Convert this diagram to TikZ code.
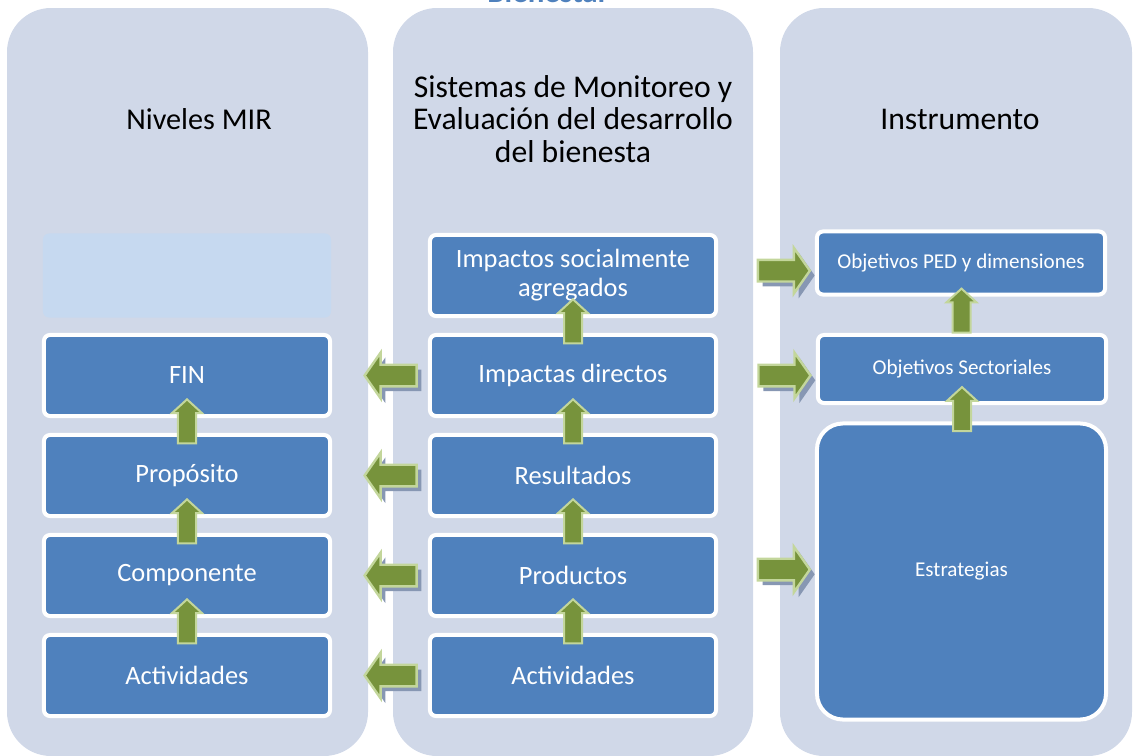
\documentclass[tikz,border=0pt]{standalone}
\usepackage{fontspec}
\setmainfont{Carlito}
\usetikzlibrary{shapes.arrows,shadows,positioning}
\definecolor{colbg}{HTML}{D0D8E8}
\definecolor{boxblue}{HTML}{4F81BD}
\definecolor{boxlight}{HTML}{C6D9F0}
\definecolor{arrgreen}{HTML}{77933C}
\definecolor{arredge}{HTML}{C3D69B}
\definecolor{arrshadow}{HTML}{8797B3}
\definecolor{titleblue}{HTML}{4F81BD}
\begin{document}
\begin{tikzpicture}[x=0.025cm, y=-0.025cm,
    title/.style     = {font=\fontsize{22.5}{23.3}\selectfont, align=center, text=black},
    level/.style     = {fill=boxblue, draw=white, line width=0.1cm, rounded corners=0.15cm,
                        minimum width=7.15cm, minimum height=2.025cm, text=white,
                        font=\fontsize{18.8}{20.6}\selectfont, align=center, inner sep=0},
    goal/.style      = {level, font=\fontsize{15}{18}\selectfont},
    uparrow/.style   = {single arrow, fill=arrgreen, draw=arredge, line width=0.05cm,
                        inner sep=0.2cm, single arrow head extend=0.15cm, single arrow tip angle=95,
                        minimum height=1.1cm, shape border rotate=90},
    sidearrow/.style = {single arrow, fill=arrgreen, draw=arredge, line width=0.06cm,
                        inner sep=0.24cm, single arrow head extend=0.3cm, single arrow tip angle=110,
                        minimum height=1.3cm,
                        drop shadow={shadow xshift=0.12cm, shadow yshift=-0.12cm, fill=arrshadow, opacity=1}}
  ]
  \useasboundingbox (0,0) rectangle (1133,756);
  \node[font=\bfseries\fontsize{22}{26}\selectfont, text=titleblue, anchor=base] (bienestar) at (548,3) {Bienestar};
  \fill[colbg, rounded corners=1.1cm] (7,8)   rectangle (368,756);
  \fill[colbg, rounded corners=1.1cm] (393,8) rectangle (753,756);
  \fill[colbg, rounded corners=1.1cm] (780,8) rectangle (1132,756);
  \node[title, font=\fontsize{21.5}{23.3}\selectfont] (titmir) at (199,119) {Niveles MIR};
  \node[title] (titsme) at (573,119) {Sistemas de Monitoreo y\\Evaluación del desarrollo\\del bienesta};
  \node[title] (titins) at (960,119) {Instrumento};
  \node[fill=boxlight, rounded corners=0.15cm, minimum width=7.2cm, minimum height=2.1cm] (blank) at (187,275.5) {};
  \node[level] (fin)    at (187,375.5) {FIN};
  \node[level] (prop)   at (187,475.5) {Propósito};
  \node[level] (comp)   at (187,575.5) {Componente};
  \node[level] (actmir) at (187,675.5) {Actividades};
  \node[level] (impsoc) at (573,275.5) {Impactos socialmente\\agregados};
  \node[level] (impd)   at (573,375.5) {Impactas directos};
  \node[level] (res)    at (573,475.5) {Resultados};
  \node[level] (prod)   at (573,575.5) {Productos};
  \node[level] (actsme) at (573,675.5) {Actividades};
  \node[goal, minimum width=7.2cm, minimum height=1.575cm] (ped)  at (961,263) {Objetivos PED y dimensiones};
  \node[goal, minimum width=7.2cm, minimum height=1.7cm]   (sect) at (962,369) {Objetivos Sectoriales};
  \node[goal, minimum width=7.225cm, minimum height=7.4cm, rounded corners=0.65cm] (estr) at (961.5,571.5) {Estrategias};
  \path (prop.north)   -- (fin.south)    node[midway, uparrow] {};
  \path (comp.north)   -- (prop.south)   node[midway, uparrow] {};
  \path (actmir.north) -- (comp.south)   node[midway, uparrow] {};
  \path (impd.north)   -- (impsoc.south) node[midway, uparrow] {};
  \path (res.north)    -- (impd.south)   node[midway, uparrow] {};
  \path (prod.north)   -- (res.south)    node[midway, uparrow] {};
  \path (actsme.north) -- (prod.south)   node[midway, uparrow] {};
  \path (sect.north)   -- (ped.south)    node[midway, uparrow] {};
  \path (estr.north -| sect.south) -- (sect.south) node[midway, uparrow] {};
  \path (impd.west)   -- (fin.east)    node[pos=0.35, sidearrow, shape border rotate=180] {};
  \path (res.west)    -- (prop.east)   node[pos=0.35, sidearrow, shape border rotate=180] {};
  \path (prod.west)   -- (comp.east)   node[pos=0.35, sidearrow, shape border rotate=180] {};
  \path (actsme.west) -- (actmir.east) node[pos=0.35, sidearrow, shape border rotate=180] {};
  \path (impsoc.east) -- (impsoc.east -| ped.west)  node[pos=0.64, sidearrow, yshift=0.12cm] {};
  \path (impd.east)   -- (impd.east -| sect.west)   node[pos=0.64, sidearrow] {};
  \path (prod.east)   -- (prod.east -| estr.west)   node[pos=0.64, sidearrow, yshift=0.15cm] {};
\end{tikzpicture}
\end{document}
